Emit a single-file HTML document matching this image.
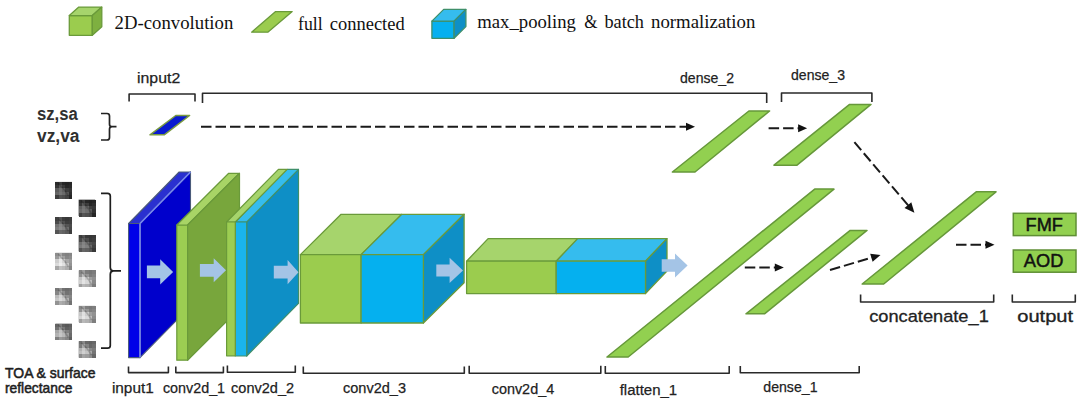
<!DOCTYPE html>
<html><head><meta charset="utf-8"><style>
html,body{margin:0;padding:0;background:#ffffff;}
svg{display:block;}
</style></head><body>
<svg width="1080" height="405" viewBox="0 0 1080 405">
<rect width="1080" height="405" fill="#ffffff"/>
<polygon points="69.3,15.6 92.3,15.6 92.3,35.3 69.3,35.3" fill="#9bcc4e" stroke="#6a9a3a" stroke-width="1.3" stroke-linejoin="round"/>
<polygon points="69.3,15.6 78.8,7.1 101.8,7.1 92.3,15.6" fill="#a6d46c" stroke="#6a9a3a" stroke-width="1.3" stroke-linejoin="round"/>
<polygon points="92.3,15.6 101.8,7.1 101.8,26.8 92.3,35.3" fill="#7eb040" stroke="#6a9a3a" stroke-width="1.3" stroke-linejoin="round"/>
<text x="114.6" y="29.1" font-family='"Liberation Serif", serif' font-size="19" font-weight="normal" fill="#111" stroke="#111" stroke-width="0" textLength="118.7" lengthAdjust="spacingAndGlyphs">2D-convolution</text>
<polygon points="251.6,32.2 267.8,32.2 292.2,11.6 275.6,11.6" fill="#9bcc4e" stroke="#6a9a3a" stroke-width="1.3" stroke-linejoin="round"/>
<text x="298.0" y="30.4" font-family='"Liberation Serif", serif' font-size="19" font-weight="normal" fill="#111" stroke="#111" stroke-width="0" textLength="24.6" lengthAdjust="spacingAndGlyphs">full</text>
<text x="329.8" y="30.4" font-family='"Liberation Serif", serif' font-size="19" font-weight="normal" fill="#111" stroke="#111" stroke-width="0" textLength="74.9" lengthAdjust="spacingAndGlyphs">connected</text>
<polygon points="431.9,21.1 454.1,21.1 454.1,38.3 431.9,38.3" fill="#05b0ef" stroke="#3f8f6a" stroke-width="1.3" stroke-linejoin="round"/>
<polygon points="431.9,21.1 443.7,9.4 465.9,9.4 454.1,21.1" fill="#35bcee" stroke="#3f8f6a" stroke-width="1.3" stroke-linejoin="round"/>
<polygon points="454.1,21.1 465.9,9.4 465.9,26.6 454.1,38.3" fill="#0e8fc6" stroke="#3f8f6a" stroke-width="1.3" stroke-linejoin="round"/>
<text x="477.3" y="27.5" font-family='"Liberation Serif", serif' font-size="19" font-weight="normal" fill="#111" stroke="#111" stroke-width="0" textLength="98.6" lengthAdjust="spacingAndGlyphs">max_pooling</text>
<text x="584.3" y="27.5" font-family='"Liberation Serif", serif' font-size="19" font-weight="normal" fill="#111" stroke="#111" stroke-width="0" textLength="13.2" lengthAdjust="spacingAndGlyphs">&amp;</text>
<text x="604.5" y="27.5" font-family='"Liberation Serif", serif' font-size="19" font-weight="normal" fill="#111" stroke="#111" stroke-width="0" textLength="39.5" lengthAdjust="spacingAndGlyphs">batch</text>
<text x="651.0" y="27.5" font-family='"Liberation Serif", serif' font-size="19" font-weight="normal" fill="#111" stroke="#111" stroke-width="0" textLength="104.3" lengthAdjust="spacingAndGlyphs">normalization</text>
<text x="37" y="119.5" font-family='"Liberation Sans", sans-serif' font-size="17.5" font-weight="bold" fill="#303030" stroke="#303030" stroke-width="0" textLength="40.8" lengthAdjust="spacingAndGlyphs">sz,sa</text>
<text x="37" y="142.0" font-family='"Liberation Sans", sans-serif' font-size="17.5" font-weight="bold" fill="#303030" stroke="#303030" stroke-width="0" textLength="42.5" lengthAdjust="spacingAndGlyphs">vz,va</text>
<path d="M101,113.5 L107,113.5 Q109.5,113.5 109.5,116 L109.5,124.2 Q109.5,126.7 112,126.7 L116.5,126.7 M112,126.7 Q109.5,126.7 109.5,129.2 L109.5,137.5 Q109.5,140 107,140 L101,140" fill="none" stroke="#222" stroke-width="1.7"/>
<text x="137" y="82.6" font-family='"Liberation Sans", sans-serif' font-size="15.5" font-weight="normal" fill="#222222" stroke="#222222" stroke-width="0.25" textLength="43.2" lengthAdjust="spacingAndGlyphs">input2</text>
<polyline points="129.1,101.5 129.1,94 195,94 195,101.5" fill="none" stroke="#2a2a2a" stroke-width="1.6" stroke-linejoin="round"/>
<polyline points="202.5,103 202.5,93.2 766.7,93.2 766.7,103" fill="none" stroke="#2a2a2a" stroke-width="1.6" stroke-linejoin="round"/>
<text x="680" y="82.6" font-family='"Liberation Sans", sans-serif' font-size="15.5" font-weight="normal" fill="#222222" stroke="#222222" stroke-width="0.25" textLength="54" lengthAdjust="spacingAndGlyphs">dense_2</text>
<polyline points="781.5,102 781.5,93 871.9,93 871.9,102" fill="none" stroke="#2a2a2a" stroke-width="1.6" stroke-linejoin="round"/>
<text x="791" y="80.4" font-family='"Liberation Sans", sans-serif' font-size="15.5" font-weight="normal" fill="#222222" stroke="#222222" stroke-width="0.25" textLength="54" lengthAdjust="spacingAndGlyphs">dense_3</text>
<polygon points="150.0,134.8 164.2,134.8 189.6,115.5 175.8,115.5" fill="#0a1ad0" stroke="#7a9a40" stroke-width="1.5" stroke-linejoin="round"/>
<line x1="201" y1="126.8" x2="687.8" y2="126.8" stroke="#1a1a1a" stroke-width="2" stroke-dasharray="10.5 4"/>
<polygon points="695.0,126.8 686.0,130.8 686.0,122.8" fill="#111"/>
<polygon points="672.4,172.0 695.0,172.0 769.6,111.0 748.9,111.0" fill="#92d050" stroke="#66983a" stroke-width="1.5" stroke-linejoin="round"/>
<line x1="768.6" y1="128.2" x2="799.9" y2="128.2" stroke="#1a1a1a" stroke-width="2" stroke-dasharray="10.5 4"/>
<polygon points="807.1,128.2 798.1,132.2 798.1,124.2" fill="#111"/>
<polygon points="774.0,165.2 797.0,165.2 871.0,104.4 849.6,104.4" fill="#92d050" stroke="#66983a" stroke-width="1.5" stroke-linejoin="round"/>
<line x1="854.4" y1="142.2" x2="909.2150509637731" y2="206.60768488243343" stroke="#1a1a1a" stroke-width="2" stroke-dasharray="10.5 4"/>
<polygon points="914.4,212.7 904.5,208.0 911.3,202.2" fill="#111"/>
<defs>
<radialGradient id="lb" cx="0.5" cy="0.5" r="0.5">
<stop offset="0" stop-color="#ffffff" stop-opacity="0.75"/>
<stop offset="1" stop-color="#ffffff" stop-opacity="0"/>
</radialGradient>
<radialGradient id="db" cx="0.5" cy="0.5" r="0.5">
<stop offset="0" stop-color="#000000" stop-opacity="0.55"/>
<stop offset="1" stop-color="#000000" stop-opacity="0"/>
</radialGradient>
<filter id="bl" x="-10%" y="-10%" width="120%" height="120%"><feGaussianBlur stdDeviation="0.6"/></filter>
</defs>
<g filter="url(#bl)"><rect x="55.4" y="181.9" width="16.5" height="16.4" fill="rgb(72,72,72)"/><rect x="55.40" y="181.90" width="3.80" height="3.78" fill="rgb(42,42,42)" shape-rendering="crispEdges"/><rect x="58.70" y="181.90" width="3.80" height="3.78" fill="rgb(62,62,62)" shape-rendering="crispEdges"/><rect x="62.00" y="181.90" width="3.80" height="3.78" fill="rgb(37,37,37)" shape-rendering="crispEdges"/><rect x="65.30" y="181.90" width="3.80" height="3.78" fill="rgb(32,32,32)" shape-rendering="crispEdges"/><rect x="68.60" y="181.90" width="3.80" height="3.78" fill="rgb(37,37,37)" shape-rendering="crispEdges"/><rect x="55.40" y="185.18" width="3.80" height="3.78" fill="rgb(52,52,52)" shape-rendering="crispEdges"/><rect x="58.70" y="185.18" width="3.80" height="3.78" fill="rgb(87,87,87)" shape-rendering="crispEdges"/><rect x="62.00" y="185.18" width="3.80" height="3.78" fill="rgb(57,57,57)" shape-rendering="crispEdges"/><rect x="65.30" y="185.18" width="3.80" height="3.78" fill="rgb(37,37,37)" shape-rendering="crispEdges"/><rect x="68.60" y="185.18" width="3.80" height="3.78" fill="rgb(42,42,42)" shape-rendering="crispEdges"/><rect x="55.40" y="188.46" width="3.80" height="3.78" fill="rgb(92,92,92)" shape-rendering="crispEdges"/><rect x="58.70" y="188.46" width="3.80" height="3.78" fill="rgb(112,112,112)" shape-rendering="crispEdges"/><rect x="62.00" y="188.46" width="3.80" height="3.78" fill="rgb(97,97,97)" shape-rendering="crispEdges"/><rect x="65.30" y="188.46" width="3.80" height="3.78" fill="rgb(62,62,62)" shape-rendering="crispEdges"/><rect x="68.60" y="188.46" width="3.80" height="3.78" fill="rgb(52,52,52)" shape-rendering="crispEdges"/><rect x="55.40" y="191.74" width="3.80" height="3.78" fill="rgb(102,102,102)" shape-rendering="crispEdges"/><rect x="58.70" y="191.74" width="3.80" height="3.78" fill="rgb(117,117,117)" shape-rendering="crispEdges"/><rect x="62.00" y="191.74" width="3.80" height="3.78" fill="rgb(107,107,107)" shape-rendering="crispEdges"/><rect x="65.30" y="191.74" width="3.80" height="3.78" fill="rgb(87,87,87)" shape-rendering="crispEdges"/><rect x="68.60" y="191.74" width="3.80" height="3.78" fill="rgb(47,47,47)" shape-rendering="crispEdges"/><rect x="55.40" y="195.02" width="3.80" height="3.78" fill="rgb(62,62,62)" shape-rendering="crispEdges"/><rect x="58.70" y="195.02" width="3.80" height="3.78" fill="rgb(82,82,82)" shape-rendering="crispEdges"/><rect x="62.00" y="195.02" width="3.80" height="3.78" fill="rgb(77,77,77)" shape-rendering="crispEdges"/><rect x="65.30" y="195.02" width="3.80" height="3.78" fill="rgb(67,67,67)" shape-rendering="crispEdges"/><rect x="68.60" y="195.02" width="3.80" height="3.78" fill="rgb(37,37,37)" shape-rendering="crispEdges"/><path d="M58.4,183.4 L64.4,189.9 L68.4,195.9" fill="none" stroke="#000" stroke-opacity="0.18" stroke-width="1.6"/></g>
<g filter="url(#bl)"><rect x="78.6" y="199.6" width="16.5" height="16.4" fill="rgb(75,75,75)"/><rect x="78.60" y="199.60" width="3.80" height="3.78" fill="rgb(45,45,45)" shape-rendering="crispEdges"/><rect x="81.90" y="199.60" width="3.80" height="3.78" fill="rgb(65,65,65)" shape-rendering="crispEdges"/><rect x="85.20" y="199.60" width="3.80" height="3.78" fill="rgb(40,40,40)" shape-rendering="crispEdges"/><rect x="88.50" y="199.60" width="3.80" height="3.78" fill="rgb(35,35,35)" shape-rendering="crispEdges"/><rect x="91.80" y="199.60" width="3.80" height="3.78" fill="rgb(40,40,40)" shape-rendering="crispEdges"/><rect x="78.60" y="202.88" width="3.80" height="3.78" fill="rgb(55,55,55)" shape-rendering="crispEdges"/><rect x="81.90" y="202.88" width="3.80" height="3.78" fill="rgb(90,90,90)" shape-rendering="crispEdges"/><rect x="85.20" y="202.88" width="3.80" height="3.78" fill="rgb(60,60,60)" shape-rendering="crispEdges"/><rect x="88.50" y="202.88" width="3.80" height="3.78" fill="rgb(40,40,40)" shape-rendering="crispEdges"/><rect x="91.80" y="202.88" width="3.80" height="3.78" fill="rgb(45,45,45)" shape-rendering="crispEdges"/><rect x="78.60" y="206.16" width="3.80" height="3.78" fill="rgb(95,95,95)" shape-rendering="crispEdges"/><rect x="81.90" y="206.16" width="3.80" height="3.78" fill="rgb(115,115,115)" shape-rendering="crispEdges"/><rect x="85.20" y="206.16" width="3.80" height="3.78" fill="rgb(100,100,100)" shape-rendering="crispEdges"/><rect x="88.50" y="206.16" width="3.80" height="3.78" fill="rgb(65,65,65)" shape-rendering="crispEdges"/><rect x="91.80" y="206.16" width="3.80" height="3.78" fill="rgb(55,55,55)" shape-rendering="crispEdges"/><rect x="78.60" y="209.44" width="3.80" height="3.78" fill="rgb(105,105,105)" shape-rendering="crispEdges"/><rect x="81.90" y="209.44" width="3.80" height="3.78" fill="rgb(120,120,120)" shape-rendering="crispEdges"/><rect x="85.20" y="209.44" width="3.80" height="3.78" fill="rgb(110,110,110)" shape-rendering="crispEdges"/><rect x="88.50" y="209.44" width="3.80" height="3.78" fill="rgb(90,90,90)" shape-rendering="crispEdges"/><rect x="91.80" y="209.44" width="3.80" height="3.78" fill="rgb(50,50,50)" shape-rendering="crispEdges"/><rect x="78.60" y="212.72" width="3.80" height="3.78" fill="rgb(65,65,65)" shape-rendering="crispEdges"/><rect x="81.90" y="212.72" width="3.80" height="3.78" fill="rgb(85,85,85)" shape-rendering="crispEdges"/><rect x="85.20" y="212.72" width="3.80" height="3.78" fill="rgb(80,80,80)" shape-rendering="crispEdges"/><rect x="88.50" y="212.72" width="3.80" height="3.78" fill="rgb(70,70,70)" shape-rendering="crispEdges"/><rect x="91.80" y="212.72" width="3.80" height="3.78" fill="rgb(40,40,40)" shape-rendering="crispEdges"/><path d="M81.6,201.1 L87.6,207.6 L91.6,213.6" fill="none" stroke="#000" stroke-opacity="0.18" stroke-width="1.6"/></g>
<g filter="url(#bl)"><rect x="55.4" y="217.3" width="16.5" height="16.4" fill="rgb(95,95,95)"/><rect x="55.40" y="217.30" width="3.80" height="3.78" fill="rgb(65,65,65)" shape-rendering="crispEdges"/><rect x="58.70" y="217.30" width="3.80" height="3.78" fill="rgb(85,85,85)" shape-rendering="crispEdges"/><rect x="62.00" y="217.30" width="3.80" height="3.78" fill="rgb(60,60,60)" shape-rendering="crispEdges"/><rect x="65.30" y="217.30" width="3.80" height="3.78" fill="rgb(55,55,55)" shape-rendering="crispEdges"/><rect x="68.60" y="217.30" width="3.80" height="3.78" fill="rgb(60,60,60)" shape-rendering="crispEdges"/><rect x="55.40" y="220.58" width="3.80" height="3.78" fill="rgb(75,75,75)" shape-rendering="crispEdges"/><rect x="58.70" y="220.58" width="3.80" height="3.78" fill="rgb(110,110,110)" shape-rendering="crispEdges"/><rect x="62.00" y="220.58" width="3.80" height="3.78" fill="rgb(80,80,80)" shape-rendering="crispEdges"/><rect x="65.30" y="220.58" width="3.80" height="3.78" fill="rgb(60,60,60)" shape-rendering="crispEdges"/><rect x="68.60" y="220.58" width="3.80" height="3.78" fill="rgb(65,65,65)" shape-rendering="crispEdges"/><rect x="55.40" y="223.86" width="3.80" height="3.78" fill="rgb(115,115,115)" shape-rendering="crispEdges"/><rect x="58.70" y="223.86" width="3.80" height="3.78" fill="rgb(135,135,135)" shape-rendering="crispEdges"/><rect x="62.00" y="223.86" width="3.80" height="3.78" fill="rgb(120,120,120)" shape-rendering="crispEdges"/><rect x="65.30" y="223.86" width="3.80" height="3.78" fill="rgb(85,85,85)" shape-rendering="crispEdges"/><rect x="68.60" y="223.86" width="3.80" height="3.78" fill="rgb(75,75,75)" shape-rendering="crispEdges"/><rect x="55.40" y="227.14" width="3.80" height="3.78" fill="rgb(125,125,125)" shape-rendering="crispEdges"/><rect x="58.70" y="227.14" width="3.80" height="3.78" fill="rgb(140,140,140)" shape-rendering="crispEdges"/><rect x="62.00" y="227.14" width="3.80" height="3.78" fill="rgb(130,130,130)" shape-rendering="crispEdges"/><rect x="65.30" y="227.14" width="3.80" height="3.78" fill="rgb(110,110,110)" shape-rendering="crispEdges"/><rect x="68.60" y="227.14" width="3.80" height="3.78" fill="rgb(70,70,70)" shape-rendering="crispEdges"/><rect x="55.40" y="230.42" width="3.80" height="3.78" fill="rgb(85,85,85)" shape-rendering="crispEdges"/><rect x="58.70" y="230.42" width="3.80" height="3.78" fill="rgb(105,105,105)" shape-rendering="crispEdges"/><rect x="62.00" y="230.42" width="3.80" height="3.78" fill="rgb(100,100,100)" shape-rendering="crispEdges"/><rect x="65.30" y="230.42" width="3.80" height="3.78" fill="rgb(90,90,90)" shape-rendering="crispEdges"/><rect x="68.60" y="230.42" width="3.80" height="3.78" fill="rgb(60,60,60)" shape-rendering="crispEdges"/><path d="M58.4,218.8 L64.4,225.3 L68.4,231.3" fill="none" stroke="#000" stroke-opacity="0.18" stroke-width="1.6"/></g>
<g filter="url(#bl)"><rect x="78.6" y="235.0" width="16.5" height="16.4" fill="rgb(92,92,92)"/><rect x="78.60" y="235.00" width="3.80" height="3.78" fill="rgb(62,62,62)" shape-rendering="crispEdges"/><rect x="81.90" y="235.00" width="3.80" height="3.78" fill="rgb(82,82,82)" shape-rendering="crispEdges"/><rect x="85.20" y="235.00" width="3.80" height="3.78" fill="rgb(57,57,57)" shape-rendering="crispEdges"/><rect x="88.50" y="235.00" width="3.80" height="3.78" fill="rgb(52,52,52)" shape-rendering="crispEdges"/><rect x="91.80" y="235.00" width="3.80" height="3.78" fill="rgb(57,57,57)" shape-rendering="crispEdges"/><rect x="78.60" y="238.28" width="3.80" height="3.78" fill="rgb(72,72,72)" shape-rendering="crispEdges"/><rect x="81.90" y="238.28" width="3.80" height="3.78" fill="rgb(107,107,107)" shape-rendering="crispEdges"/><rect x="85.20" y="238.28" width="3.80" height="3.78" fill="rgb(77,77,77)" shape-rendering="crispEdges"/><rect x="88.50" y="238.28" width="3.80" height="3.78" fill="rgb(57,57,57)" shape-rendering="crispEdges"/><rect x="91.80" y="238.28" width="3.80" height="3.78" fill="rgb(62,62,62)" shape-rendering="crispEdges"/><rect x="78.60" y="241.56" width="3.80" height="3.78" fill="rgb(112,112,112)" shape-rendering="crispEdges"/><rect x="81.90" y="241.56" width="3.80" height="3.78" fill="rgb(132,132,132)" shape-rendering="crispEdges"/><rect x="85.20" y="241.56" width="3.80" height="3.78" fill="rgb(117,117,117)" shape-rendering="crispEdges"/><rect x="88.50" y="241.56" width="3.80" height="3.78" fill="rgb(82,82,82)" shape-rendering="crispEdges"/><rect x="91.80" y="241.56" width="3.80" height="3.78" fill="rgb(72,72,72)" shape-rendering="crispEdges"/><rect x="78.60" y="244.84" width="3.80" height="3.78" fill="rgb(122,122,122)" shape-rendering="crispEdges"/><rect x="81.90" y="244.84" width="3.80" height="3.78" fill="rgb(137,137,137)" shape-rendering="crispEdges"/><rect x="85.20" y="244.84" width="3.80" height="3.78" fill="rgb(127,127,127)" shape-rendering="crispEdges"/><rect x="88.50" y="244.84" width="3.80" height="3.78" fill="rgb(107,107,107)" shape-rendering="crispEdges"/><rect x="91.80" y="244.84" width="3.80" height="3.78" fill="rgb(67,67,67)" shape-rendering="crispEdges"/><rect x="78.60" y="248.12" width="3.80" height="3.78" fill="rgb(82,82,82)" shape-rendering="crispEdges"/><rect x="81.90" y="248.12" width="3.80" height="3.78" fill="rgb(102,102,102)" shape-rendering="crispEdges"/><rect x="85.20" y="248.12" width="3.80" height="3.78" fill="rgb(97,97,97)" shape-rendering="crispEdges"/><rect x="88.50" y="248.12" width="3.80" height="3.78" fill="rgb(87,87,87)" shape-rendering="crispEdges"/><rect x="91.80" y="248.12" width="3.80" height="3.78" fill="rgb(57,57,57)" shape-rendering="crispEdges"/><path d="M81.6,236.5 L87.6,243.0 L91.6,249.0" fill="none" stroke="#000" stroke-opacity="0.18" stroke-width="1.6"/></g>
<g filter="url(#bl)"><rect x="55.4" y="252.7" width="16.5" height="16.4" fill="rgb(180,180,180)"/><rect x="55.40" y="252.70" width="3.80" height="3.78" fill="rgb(141,141,141)" shape-rendering="crispEdges"/><rect x="58.70" y="252.70" width="3.80" height="3.78" fill="rgb(167,167,167)" shape-rendering="crispEdges"/><rect x="62.00" y="252.70" width="3.80" height="3.78" fill="rgb(134,134,134)" shape-rendering="crispEdges"/><rect x="65.30" y="252.70" width="3.80" height="3.78" fill="rgb(128,128,128)" shape-rendering="crispEdges"/><rect x="68.60" y="252.70" width="3.80" height="3.78" fill="rgb(134,134,134)" shape-rendering="crispEdges"/><rect x="55.40" y="255.98" width="3.80" height="3.78" fill="rgb(154,154,154)" shape-rendering="crispEdges"/><rect x="58.70" y="255.98" width="3.80" height="3.78" fill="rgb(199,199,199)" shape-rendering="crispEdges"/><rect x="62.00" y="255.98" width="3.80" height="3.78" fill="rgb(160,160,160)" shape-rendering="crispEdges"/><rect x="65.30" y="255.98" width="3.80" height="3.78" fill="rgb(134,134,134)" shape-rendering="crispEdges"/><rect x="68.60" y="255.98" width="3.80" height="3.78" fill="rgb(141,141,141)" shape-rendering="crispEdges"/><rect x="55.40" y="259.26" width="3.80" height="3.78" fill="rgb(206,206,206)" shape-rendering="crispEdges"/><rect x="58.70" y="259.26" width="3.80" height="3.78" fill="rgb(232,232,232)" shape-rendering="crispEdges"/><rect x="62.00" y="259.26" width="3.80" height="3.78" fill="rgb(212,212,212)" shape-rendering="crispEdges"/><rect x="65.30" y="259.26" width="3.80" height="3.78" fill="rgb(167,167,167)" shape-rendering="crispEdges"/><rect x="68.60" y="259.26" width="3.80" height="3.78" fill="rgb(154,154,154)" shape-rendering="crispEdges"/><rect x="55.40" y="262.54" width="3.80" height="3.78" fill="rgb(219,219,219)" shape-rendering="crispEdges"/><rect x="58.70" y="262.54" width="3.80" height="3.78" fill="rgb(238,238,238)" shape-rendering="crispEdges"/><rect x="62.00" y="262.54" width="3.80" height="3.78" fill="rgb(225,225,225)" shape-rendering="crispEdges"/><rect x="65.30" y="262.54" width="3.80" height="3.78" fill="rgb(199,199,199)" shape-rendering="crispEdges"/><rect x="68.60" y="262.54" width="3.80" height="3.78" fill="rgb(147,147,147)" shape-rendering="crispEdges"/><rect x="55.40" y="265.82" width="3.80" height="3.78" fill="rgb(167,167,167)" shape-rendering="crispEdges"/><rect x="58.70" y="265.82" width="3.80" height="3.78" fill="rgb(193,193,193)" shape-rendering="crispEdges"/><rect x="62.00" y="265.82" width="3.80" height="3.78" fill="rgb(186,186,186)" shape-rendering="crispEdges"/><rect x="65.30" y="265.82" width="3.80" height="3.78" fill="rgb(173,173,173)" shape-rendering="crispEdges"/><rect x="68.60" y="265.82" width="3.80" height="3.78" fill="rgb(134,134,134)" shape-rendering="crispEdges"/><path d="M58.4,254.2 L64.4,260.7 L68.4,266.7" fill="none" stroke="#000" stroke-opacity="0.18" stroke-width="1.6"/></g>
<g filter="url(#bl)"><rect x="78.6" y="270.4" width="16.5" height="16.4" fill="rgb(170,170,170)"/><rect x="78.60" y="270.40" width="3.80" height="3.78" fill="rgb(131,131,131)" shape-rendering="crispEdges"/><rect x="81.90" y="270.40" width="3.80" height="3.78" fill="rgb(157,157,157)" shape-rendering="crispEdges"/><rect x="85.20" y="270.40" width="3.80" height="3.78" fill="rgb(124,124,124)" shape-rendering="crispEdges"/><rect x="88.50" y="270.40" width="3.80" height="3.78" fill="rgb(118,118,118)" shape-rendering="crispEdges"/><rect x="91.80" y="270.40" width="3.80" height="3.78" fill="rgb(124,124,124)" shape-rendering="crispEdges"/><rect x="78.60" y="273.68" width="3.80" height="3.78" fill="rgb(144,144,144)" shape-rendering="crispEdges"/><rect x="81.90" y="273.68" width="3.80" height="3.78" fill="rgb(189,189,189)" shape-rendering="crispEdges"/><rect x="85.20" y="273.68" width="3.80" height="3.78" fill="rgb(150,150,150)" shape-rendering="crispEdges"/><rect x="88.50" y="273.68" width="3.80" height="3.78" fill="rgb(124,124,124)" shape-rendering="crispEdges"/><rect x="91.80" y="273.68" width="3.80" height="3.78" fill="rgb(131,131,131)" shape-rendering="crispEdges"/><rect x="78.60" y="276.96" width="3.80" height="3.78" fill="rgb(196,196,196)" shape-rendering="crispEdges"/><rect x="81.90" y="276.96" width="3.80" height="3.78" fill="rgb(222,222,222)" shape-rendering="crispEdges"/><rect x="85.20" y="276.96" width="3.80" height="3.78" fill="rgb(202,202,202)" shape-rendering="crispEdges"/><rect x="88.50" y="276.96" width="3.80" height="3.78" fill="rgb(157,157,157)" shape-rendering="crispEdges"/><rect x="91.80" y="276.96" width="3.80" height="3.78" fill="rgb(144,144,144)" shape-rendering="crispEdges"/><rect x="78.60" y="280.24" width="3.80" height="3.78" fill="rgb(209,209,209)" shape-rendering="crispEdges"/><rect x="81.90" y="280.24" width="3.80" height="3.78" fill="rgb(228,228,228)" shape-rendering="crispEdges"/><rect x="85.20" y="280.24" width="3.80" height="3.78" fill="rgb(215,215,215)" shape-rendering="crispEdges"/><rect x="88.50" y="280.24" width="3.80" height="3.78" fill="rgb(189,189,189)" shape-rendering="crispEdges"/><rect x="91.80" y="280.24" width="3.80" height="3.78" fill="rgb(137,137,137)" shape-rendering="crispEdges"/><rect x="78.60" y="283.52" width="3.80" height="3.78" fill="rgb(157,157,157)" shape-rendering="crispEdges"/><rect x="81.90" y="283.52" width="3.80" height="3.78" fill="rgb(183,183,183)" shape-rendering="crispEdges"/><rect x="85.20" y="283.52" width="3.80" height="3.78" fill="rgb(176,176,176)" shape-rendering="crispEdges"/><rect x="88.50" y="283.52" width="3.80" height="3.78" fill="rgb(163,163,163)" shape-rendering="crispEdges"/><rect x="91.80" y="283.52" width="3.80" height="3.78" fill="rgb(124,124,124)" shape-rendering="crispEdges"/><path d="M81.6,271.9 L87.6,278.4 L91.6,284.4" fill="none" stroke="#000" stroke-opacity="0.18" stroke-width="1.6"/></g>
<g filter="url(#bl)"><rect x="55.4" y="288.1" width="16.5" height="16.4" fill="rgb(160,160,160)"/><rect x="55.40" y="288.10" width="3.80" height="3.78" fill="rgb(121,121,121)" shape-rendering="crispEdges"/><rect x="58.70" y="288.10" width="3.80" height="3.78" fill="rgb(147,147,147)" shape-rendering="crispEdges"/><rect x="62.00" y="288.10" width="3.80" height="3.78" fill="rgb(114,114,114)" shape-rendering="crispEdges"/><rect x="65.30" y="288.10" width="3.80" height="3.78" fill="rgb(108,108,108)" shape-rendering="crispEdges"/><rect x="68.60" y="288.10" width="3.80" height="3.78" fill="rgb(114,114,114)" shape-rendering="crispEdges"/><rect x="55.40" y="291.38" width="3.80" height="3.78" fill="rgb(134,134,134)" shape-rendering="crispEdges"/><rect x="58.70" y="291.38" width="3.80" height="3.78" fill="rgb(179,179,179)" shape-rendering="crispEdges"/><rect x="62.00" y="291.38" width="3.80" height="3.78" fill="rgb(140,140,140)" shape-rendering="crispEdges"/><rect x="65.30" y="291.38" width="3.80" height="3.78" fill="rgb(114,114,114)" shape-rendering="crispEdges"/><rect x="68.60" y="291.38" width="3.80" height="3.78" fill="rgb(121,121,121)" shape-rendering="crispEdges"/><rect x="55.40" y="294.66" width="3.80" height="3.78" fill="rgb(186,186,186)" shape-rendering="crispEdges"/><rect x="58.70" y="294.66" width="3.80" height="3.78" fill="rgb(212,212,212)" shape-rendering="crispEdges"/><rect x="62.00" y="294.66" width="3.80" height="3.78" fill="rgb(192,192,192)" shape-rendering="crispEdges"/><rect x="65.30" y="294.66" width="3.80" height="3.78" fill="rgb(147,147,147)" shape-rendering="crispEdges"/><rect x="68.60" y="294.66" width="3.80" height="3.78" fill="rgb(134,134,134)" shape-rendering="crispEdges"/><rect x="55.40" y="297.94" width="3.80" height="3.78" fill="rgb(199,199,199)" shape-rendering="crispEdges"/><rect x="58.70" y="297.94" width="3.80" height="3.78" fill="rgb(218,218,218)" shape-rendering="crispEdges"/><rect x="62.00" y="297.94" width="3.80" height="3.78" fill="rgb(205,205,205)" shape-rendering="crispEdges"/><rect x="65.30" y="297.94" width="3.80" height="3.78" fill="rgb(179,179,179)" shape-rendering="crispEdges"/><rect x="68.60" y="297.94" width="3.80" height="3.78" fill="rgb(127,127,127)" shape-rendering="crispEdges"/><rect x="55.40" y="301.22" width="3.80" height="3.78" fill="rgb(147,147,147)" shape-rendering="crispEdges"/><rect x="58.70" y="301.22" width="3.80" height="3.78" fill="rgb(173,173,173)" shape-rendering="crispEdges"/><rect x="62.00" y="301.22" width="3.80" height="3.78" fill="rgb(166,166,166)" shape-rendering="crispEdges"/><rect x="65.30" y="301.22" width="3.80" height="3.78" fill="rgb(153,153,153)" shape-rendering="crispEdges"/><rect x="68.60" y="301.22" width="3.80" height="3.78" fill="rgb(114,114,114)" shape-rendering="crispEdges"/><path d="M58.4,289.6 L64.4,296.1 L68.4,302.1" fill="none" stroke="#000" stroke-opacity="0.18" stroke-width="1.6"/></g>
<g filter="url(#bl)"><rect x="78.6" y="305.79999999999995" width="16.5" height="16.4" fill="rgb(172,172,172)"/><rect x="78.60" y="305.80" width="3.80" height="3.78" fill="rgb(133,133,133)" shape-rendering="crispEdges"/><rect x="81.90" y="305.80" width="3.80" height="3.78" fill="rgb(159,159,159)" shape-rendering="crispEdges"/><rect x="85.20" y="305.80" width="3.80" height="3.78" fill="rgb(126,126,126)" shape-rendering="crispEdges"/><rect x="88.50" y="305.80" width="3.80" height="3.78" fill="rgb(120,120,120)" shape-rendering="crispEdges"/><rect x="91.80" y="305.80" width="3.80" height="3.78" fill="rgb(126,126,126)" shape-rendering="crispEdges"/><rect x="78.60" y="309.08" width="3.80" height="3.78" fill="rgb(146,146,146)" shape-rendering="crispEdges"/><rect x="81.90" y="309.08" width="3.80" height="3.78" fill="rgb(191,191,191)" shape-rendering="crispEdges"/><rect x="85.20" y="309.08" width="3.80" height="3.78" fill="rgb(152,152,152)" shape-rendering="crispEdges"/><rect x="88.50" y="309.08" width="3.80" height="3.78" fill="rgb(126,126,126)" shape-rendering="crispEdges"/><rect x="91.80" y="309.08" width="3.80" height="3.78" fill="rgb(133,133,133)" shape-rendering="crispEdges"/><rect x="78.60" y="312.36" width="3.80" height="3.78" fill="rgb(198,198,198)" shape-rendering="crispEdges"/><rect x="81.90" y="312.36" width="3.80" height="3.78" fill="rgb(224,224,224)" shape-rendering="crispEdges"/><rect x="85.20" y="312.36" width="3.80" height="3.78" fill="rgb(204,204,204)" shape-rendering="crispEdges"/><rect x="88.50" y="312.36" width="3.80" height="3.78" fill="rgb(159,159,159)" shape-rendering="crispEdges"/><rect x="91.80" y="312.36" width="3.80" height="3.78" fill="rgb(146,146,146)" shape-rendering="crispEdges"/><rect x="78.60" y="315.64" width="3.80" height="3.78" fill="rgb(211,211,211)" shape-rendering="crispEdges"/><rect x="81.90" y="315.64" width="3.80" height="3.78" fill="rgb(230,230,230)" shape-rendering="crispEdges"/><rect x="85.20" y="315.64" width="3.80" height="3.78" fill="rgb(217,217,217)" shape-rendering="crispEdges"/><rect x="88.50" y="315.64" width="3.80" height="3.78" fill="rgb(191,191,191)" shape-rendering="crispEdges"/><rect x="91.80" y="315.64" width="3.80" height="3.78" fill="rgb(139,139,139)" shape-rendering="crispEdges"/><rect x="78.60" y="318.92" width="3.80" height="3.78" fill="rgb(159,159,159)" shape-rendering="crispEdges"/><rect x="81.90" y="318.92" width="3.80" height="3.78" fill="rgb(185,185,185)" shape-rendering="crispEdges"/><rect x="85.20" y="318.92" width="3.80" height="3.78" fill="rgb(178,178,178)" shape-rendering="crispEdges"/><rect x="88.50" y="318.92" width="3.80" height="3.78" fill="rgb(165,165,165)" shape-rendering="crispEdges"/><rect x="91.80" y="318.92" width="3.80" height="3.78" fill="rgb(126,126,126)" shape-rendering="crispEdges"/><path d="M81.6,307.29999999999995 L87.6,313.79999999999995 L91.6,319.79999999999995" fill="none" stroke="#000" stroke-opacity="0.18" stroke-width="1.6"/></g>
<g filter="url(#bl)"><rect x="55.4" y="323.5" width="16.5" height="16.4" fill="rgb(140,140,140)"/><rect x="55.40" y="323.50" width="3.80" height="3.78" fill="rgb(101,101,101)" shape-rendering="crispEdges"/><rect x="58.70" y="323.50" width="3.80" height="3.78" fill="rgb(127,127,127)" shape-rendering="crispEdges"/><rect x="62.00" y="323.50" width="3.80" height="3.78" fill="rgb(94,94,94)" shape-rendering="crispEdges"/><rect x="65.30" y="323.50" width="3.80" height="3.78" fill="rgb(88,88,88)" shape-rendering="crispEdges"/><rect x="68.60" y="323.50" width="3.80" height="3.78" fill="rgb(94,94,94)" shape-rendering="crispEdges"/><rect x="55.40" y="326.78" width="3.80" height="3.78" fill="rgb(114,114,114)" shape-rendering="crispEdges"/><rect x="58.70" y="326.78" width="3.80" height="3.78" fill="rgb(159,159,159)" shape-rendering="crispEdges"/><rect x="62.00" y="326.78" width="3.80" height="3.78" fill="rgb(120,120,120)" shape-rendering="crispEdges"/><rect x="65.30" y="326.78" width="3.80" height="3.78" fill="rgb(94,94,94)" shape-rendering="crispEdges"/><rect x="68.60" y="326.78" width="3.80" height="3.78" fill="rgb(101,101,101)" shape-rendering="crispEdges"/><rect x="55.40" y="330.06" width="3.80" height="3.78" fill="rgb(166,166,166)" shape-rendering="crispEdges"/><rect x="58.70" y="330.06" width="3.80" height="3.78" fill="rgb(192,192,192)" shape-rendering="crispEdges"/><rect x="62.00" y="330.06" width="3.80" height="3.78" fill="rgb(172,172,172)" shape-rendering="crispEdges"/><rect x="65.30" y="330.06" width="3.80" height="3.78" fill="rgb(127,127,127)" shape-rendering="crispEdges"/><rect x="68.60" y="330.06" width="3.80" height="3.78" fill="rgb(114,114,114)" shape-rendering="crispEdges"/><rect x="55.40" y="333.34" width="3.80" height="3.78" fill="rgb(179,179,179)" shape-rendering="crispEdges"/><rect x="58.70" y="333.34" width="3.80" height="3.78" fill="rgb(198,198,198)" shape-rendering="crispEdges"/><rect x="62.00" y="333.34" width="3.80" height="3.78" fill="rgb(185,185,185)" shape-rendering="crispEdges"/><rect x="65.30" y="333.34" width="3.80" height="3.78" fill="rgb(159,159,159)" shape-rendering="crispEdges"/><rect x="68.60" y="333.34" width="3.80" height="3.78" fill="rgb(107,107,107)" shape-rendering="crispEdges"/><rect x="55.40" y="336.62" width="3.80" height="3.78" fill="rgb(127,127,127)" shape-rendering="crispEdges"/><rect x="58.70" y="336.62" width="3.80" height="3.78" fill="rgb(153,153,153)" shape-rendering="crispEdges"/><rect x="62.00" y="336.62" width="3.80" height="3.78" fill="rgb(146,146,146)" shape-rendering="crispEdges"/><rect x="65.30" y="336.62" width="3.80" height="3.78" fill="rgb(133,133,133)" shape-rendering="crispEdges"/><rect x="68.60" y="336.62" width="3.80" height="3.78" fill="rgb(94,94,94)" shape-rendering="crispEdges"/><path d="M58.4,325.0 L64.4,331.5 L68.4,337.5" fill="none" stroke="#000" stroke-opacity="0.18" stroke-width="1.6"/></g>
<g filter="url(#bl)"><rect x="78.6" y="341.2" width="16.5" height="16.4" fill="rgb(150,150,150)"/><rect x="78.60" y="341.20" width="3.80" height="3.78" fill="rgb(111,111,111)" shape-rendering="crispEdges"/><rect x="81.90" y="341.20" width="3.80" height="3.78" fill="rgb(137,137,137)" shape-rendering="crispEdges"/><rect x="85.20" y="341.20" width="3.80" height="3.78" fill="rgb(104,104,104)" shape-rendering="crispEdges"/><rect x="88.50" y="341.20" width="3.80" height="3.78" fill="rgb(98,98,98)" shape-rendering="crispEdges"/><rect x="91.80" y="341.20" width="3.80" height="3.78" fill="rgb(104,104,104)" shape-rendering="crispEdges"/><rect x="78.60" y="344.48" width="3.80" height="3.78" fill="rgb(124,124,124)" shape-rendering="crispEdges"/><rect x="81.90" y="344.48" width="3.80" height="3.78" fill="rgb(169,169,169)" shape-rendering="crispEdges"/><rect x="85.20" y="344.48" width="3.80" height="3.78" fill="rgb(130,130,130)" shape-rendering="crispEdges"/><rect x="88.50" y="344.48" width="3.80" height="3.78" fill="rgb(104,104,104)" shape-rendering="crispEdges"/><rect x="91.80" y="344.48" width="3.80" height="3.78" fill="rgb(111,111,111)" shape-rendering="crispEdges"/><rect x="78.60" y="347.76" width="3.80" height="3.78" fill="rgb(176,176,176)" shape-rendering="crispEdges"/><rect x="81.90" y="347.76" width="3.80" height="3.78" fill="rgb(202,202,202)" shape-rendering="crispEdges"/><rect x="85.20" y="347.76" width="3.80" height="3.78" fill="rgb(182,182,182)" shape-rendering="crispEdges"/><rect x="88.50" y="347.76" width="3.80" height="3.78" fill="rgb(137,137,137)" shape-rendering="crispEdges"/><rect x="91.80" y="347.76" width="3.80" height="3.78" fill="rgb(124,124,124)" shape-rendering="crispEdges"/><rect x="78.60" y="351.04" width="3.80" height="3.78" fill="rgb(189,189,189)" shape-rendering="crispEdges"/><rect x="81.90" y="351.04" width="3.80" height="3.78" fill="rgb(208,208,208)" shape-rendering="crispEdges"/><rect x="85.20" y="351.04" width="3.80" height="3.78" fill="rgb(195,195,195)" shape-rendering="crispEdges"/><rect x="88.50" y="351.04" width="3.80" height="3.78" fill="rgb(169,169,169)" shape-rendering="crispEdges"/><rect x="91.80" y="351.04" width="3.80" height="3.78" fill="rgb(117,117,117)" shape-rendering="crispEdges"/><rect x="78.60" y="354.32" width="3.80" height="3.78" fill="rgb(137,137,137)" shape-rendering="crispEdges"/><rect x="81.90" y="354.32" width="3.80" height="3.78" fill="rgb(163,163,163)" shape-rendering="crispEdges"/><rect x="85.20" y="354.32" width="3.80" height="3.78" fill="rgb(156,156,156)" shape-rendering="crispEdges"/><rect x="88.50" y="354.32" width="3.80" height="3.78" fill="rgb(143,143,143)" shape-rendering="crispEdges"/><rect x="91.80" y="354.32" width="3.80" height="3.78" fill="rgb(104,104,104)" shape-rendering="crispEdges"/><path d="M81.6,342.7 L87.6,349.2 L91.6,355.2" fill="none" stroke="#000" stroke-opacity="0.18" stroke-width="1.6"/></g>
<path d="M101,193.3 L107.5,193.3 Q110.3,193.3 110.3,196 L110.3,267.5 Q110.3,270.9 113.5,270.9 L121,270.9 M113.5,270.9 Q110.3,270.9 110.3,274.3 L110.3,345.5 Q110.3,348.2 107.5,348.2 L101,348.2" fill="none" stroke="#1e1e1e" stroke-width="1.7"/>
<text x="5.0" y="377.6" font-family='"Liberation Sans", sans-serif' font-size="15" font-weight="normal" fill="#1e1e1e" stroke="#1e1e1e" stroke-width="0.55" textLength="90.5" lengthAdjust="spacingAndGlyphs">TOA &amp; surface</text>
<text x="5.0" y="393.2" font-family='"Liberation Sans", sans-serif' font-size="15" font-weight="normal" fill="#1e1e1e" stroke="#1e1e1e" stroke-width="0.55" textLength="67.5" lengthAdjust="spacingAndGlyphs">reflectance</text>
<polygon points="140.0,223.5 190.5,172.0 190.5,306.1 140.0,357.6" fill="#0000cc" stroke="#4a5a7a" stroke-width="1.1" stroke-linejoin="round"/>
<polygon points="128.6,223.5 179.1,172.0 190.5,172.0 140.0,223.5" fill="#2a30d0" stroke="#4a5a7a" stroke-width="1.1" stroke-linejoin="round"/>
<polygon points="128.6,223.5 140.0,223.5 140.0,357.6 128.6,357.6" fill="#0000e8" stroke="#4a5a7a" stroke-width="1.1" stroke-linejoin="round"/>
<line x1="140.0" y1="223.5" x2="140.0" y2="357.6" stroke="#7888f4" stroke-width="1.6"/>
<line x1="140.0" y1="223.5" x2="190.5" y2="172.0" stroke="#7888f4" stroke-width="1.6"/>
<polygon points="146.9,265.5 160.2,265.5 160.2,259.3 173.1,271.9 160.2,284.5 160.2,278.3 146.9,278.3" fill="#a4c4e6"/>
<polygon points="176.8,225.0 187.6,225.0 187.6,360.2 176.8,360.2" fill="#9ccd52" stroke="#6a9a3a" stroke-width="1.2" stroke-linejoin="round"/>
<polygon points="176.8,225.0 228.7,173.3 239.5,173.3 187.6,225.0" fill="#a8d466" stroke="#6a9a3a" stroke-width="1.2" stroke-linejoin="round"/>
<polygon points="187.6,225.0 239.5,173.3 239.5,308.5 187.6,360.2" fill="#78a63c" stroke="#6a9a3a" stroke-width="1.2" stroke-linejoin="round"/>
<polygon points="199.9,263.9 213.7,263.9 213.7,258.3 226.0,270.3 213.7,282.3 213.7,276.7 199.9,276.7" fill="#a4c4e6"/>
<polygon points="246.7,222.0 298.5,169.4 298.5,303.4 246.7,356.0" fill="#0e8fc6" stroke="#3f8f6a" stroke-width="1.2" stroke-linejoin="round"/>
<polygon points="235.3,222.0 287.1,169.4 298.5,169.4 246.7,222.0" fill="#35bcee" stroke="#3f8f6a" stroke-width="1.2" stroke-linejoin="round"/>
<polygon points="226.6,222.0 278.4,169.4 287.1,169.4 235.3,222.0" fill="#a6d46c" stroke="#6a9a3a" stroke-width="1.2" stroke-linejoin="round"/>
<polygon points="235.3,222.0 246.7,222.0 246.7,356.0 235.3,356.0" fill="#1ab4ec" stroke="#3f8f6a" stroke-width="1.2" stroke-linejoin="round"/>
<polygon points="226.6,222.0 235.3,222.0 235.3,355.8 226.6,355.8" fill="#9ccd52" stroke="#6a9a3a" stroke-width="1.2" stroke-linejoin="round"/>
<polygon points="273.8,265.8 287.6,265.8 287.6,260.1 298.5,272.2 287.6,284.3 287.6,278.6 273.8,278.6" fill="#a4c4e6"/>
<polygon points="300.4,254.6 341.1,214.3 401.8,214.3 361.1,254.6" fill="#a6d46c" stroke="#6a9a3a" stroke-width="1.3" stroke-linejoin="round"/>
<polygon points="361.1,254.6 401.8,214.3 464.1,214.3 423.4,254.6" fill="#35bcee" stroke="#6a9a3a" stroke-width="1.3" stroke-linejoin="round"/>
<polygon points="423.4,254.6 464.1,214.3 464.1,282.7 423.4,323.0" fill="#0e8fc6" stroke="#6a9a3a" stroke-width="1.3" stroke-linejoin="round"/>
<polygon points="300.4,254.6 361.1,254.6 361.1,323.0 300.4,323.0" fill="#9bcc4e" stroke="#6a9a3a" stroke-width="1.3" stroke-linejoin="round"/>
<polygon points="361.1,254.6 423.4,254.6 423.4,323.0 361.1,323.0" fill="#05b0ef" stroke="#6a9a3a" stroke-width="1.3" stroke-linejoin="round"/>
<polygon points="436.3,264.4 449.6,264.4 449.6,257.8 463.0,270.4 449.6,283.0 449.6,276.4 436.3,276.4" fill="#a4c4e6"/>
<polygon points="466.6,261.2 488.1,238.6 577.7,238.6 556.2,261.2" fill="#a6d46c" stroke="#6a9a3a" stroke-width="1.3" stroke-linejoin="round"/>
<polygon points="556.2,261.2 577.7,238.6 667.0,238.6 645.5,261.2" fill="#35bcee" stroke="#6a9a3a" stroke-width="1.3" stroke-linejoin="round"/>
<polygon points="645.5,261.2 667.0,238.6 667.0,271.0 645.5,293.6" fill="#0e8fc6" stroke="#6a9a3a" stroke-width="1.3" stroke-linejoin="round"/>
<polygon points="466.6,261.2 556.2,261.2 556.2,293.6 466.6,293.6" fill="#9bcc4e" stroke="#6a9a3a" stroke-width="1.3" stroke-linejoin="round"/>
<polygon points="556.2,261.2 645.5,261.2 645.5,293.6 556.2,293.6" fill="#05b0ef" stroke="#6a9a3a" stroke-width="1.3" stroke-linejoin="round"/>
<polygon points="661.7,259.2 675.0,259.2 675.0,253.6 687.6,265.5 675.0,277.4 675.0,271.8 661.7,271.8" fill="#a4c4e6"/>
<polygon points="607.0,357.0 628.2,357.0 834.0,189.1 814.7,189.1" fill="#92d050" stroke="#66983a" stroke-width="1.5" stroke-linejoin="round"/>
<line x1="744.8" y1="267.4" x2="776.5999999999999" y2="267.4" stroke="#1a1a1a" stroke-width="2" stroke-dasharray="10.5 4"/>
<polygon points="783.8,267.4 774.8,271.4 774.8,263.4" fill="#111"/>
<polygon points="746.0,313.8 764.5,313.8 867.0,230.4 850.2,230.4" fill="#92d050" stroke="#66983a" stroke-width="1.5" stroke-linejoin="round"/>
<line x1="830" y1="270" x2="873.214591388772" y2="257.1639827558103" stroke="#1a1a1a" stroke-width="2" stroke-dasharray="10.5 4"/>
<polygon points="880.5,255.0 872.6,261.7 870.2,253.7" fill="#111"/>
<polygon points="862.2,284.0 883.7,284.0 996.0,191.8 976.2,191.8" fill="#92d050" stroke="#66983a" stroke-width="1.5" stroke-linejoin="round"/>
<line x1="956" y1="244.8" x2="987.3" y2="244.8" stroke="#1a1a1a" stroke-width="2" stroke-dasharray="10.5 4"/>
<polygon points="994.5,244.8 985.5,248.8 985.5,240.8" fill="#111"/>
<rect x="1013.3" y="213.3" width="62.7" height="22.3" fill="#92d050" stroke="#5f8f34" stroke-width="1.5"/>
<rect x="1013.3" y="250" width="62.7" height="22.2" fill="#92d050" stroke="#5f8f34" stroke-width="1.5"/>
<text x="1025.6" y="230.7" font-family='"Liberation Sans", sans-serif' font-size="18.5" font-weight="normal" fill="#111" stroke="#111" stroke-width="0.5" textLength="37.3" lengthAdjust="spacingAndGlyphs">FMF</text>
<text x="1023.8" y="266.7" font-family='"Liberation Sans", sans-serif' font-size="18.5" font-weight="normal" fill="#111" stroke="#111" stroke-width="0.5" textLength="39.5" lengthAdjust="spacingAndGlyphs">AOD</text>
<polyline points="128.5,366.5 128.5,372.6 168.4,372.6 168.4,366.5" fill="none" stroke="#2a2a2a" stroke-width="1.6" stroke-linejoin="round"/>
<polyline points="175.8,366.5 175.8,372.6 223.4,372.6 223.4,366.5" fill="none" stroke="#2a2a2a" stroke-width="1.6" stroke-linejoin="round"/>
<polyline points="227.4,365.5 227.4,372.3 295.3,372.3 295.3,365.5" fill="none" stroke="#2a2a2a" stroke-width="1.6" stroke-linejoin="round"/>
<polyline points="303.3,366.4 303.3,373.3 464.3,373.3 464.3,366.4" fill="none" stroke="#2a2a2a" stroke-width="1.6" stroke-linejoin="round"/>
<polyline points="469.2,365.7 469.2,373.3 600.8,373.3 600.8,365.7" fill="none" stroke="#2a2a2a" stroke-width="1.6" stroke-linejoin="round"/>
<polyline points="605.3,365.9 605.3,373.3 729.2,373.3 729.2,365.9" fill="none" stroke="#2a2a2a" stroke-width="1.6" stroke-linejoin="round"/>
<polyline points="740.3,366 740.3,372.8 859.2,372.8 859.2,366" fill="none" stroke="#2a2a2a" stroke-width="1.6" stroke-linejoin="round"/>
<polyline points="860.6,294.5 860.6,302 993.7,302 993.7,294.5" fill="none" stroke="#2a2a2a" stroke-width="1.6" stroke-linejoin="round"/>
<polyline points="1012.3,294.5 1012.3,302 1075.3,302 1075.3,294.5" fill="none" stroke="#2a2a2a" stroke-width="1.6" stroke-linejoin="round"/>
<text x="111.9" y="392.5" font-family='"Liberation Sans", sans-serif' font-size="15.5" font-weight="normal" fill="#222222" stroke="#222222" stroke-width="0.25" textLength="41.9" lengthAdjust="spacingAndGlyphs">input1</text>
<text x="162.9" y="393.0" font-family='"Liberation Sans", sans-serif' font-size="15.5" font-weight="normal" fill="#222222" stroke="#222222" stroke-width="0.25" textLength="62.2" lengthAdjust="spacingAndGlyphs">conv2d_1</text>
<text x="231.1" y="392.7" font-family='"Liberation Sans", sans-serif' font-size="15.5" font-weight="normal" fill="#222222" stroke="#222222" stroke-width="0.25" textLength="63" lengthAdjust="spacingAndGlyphs">conv2d_2</text>
<text x="343" y="393.3" font-family='"Liberation Sans", sans-serif' font-size="15.5" font-weight="normal" fill="#222222" stroke="#222222" stroke-width="0.25" textLength="63" lengthAdjust="spacingAndGlyphs">conv2d_3</text>
<text x="491.7" y="393.5" font-family='"Liberation Sans", sans-serif' font-size="15.5" font-weight="normal" fill="#222222" stroke="#222222" stroke-width="0.25" textLength="62.5" lengthAdjust="spacingAndGlyphs">conv2d_4</text>
<text x="619.7" y="394.6" font-family='"Liberation Sans", sans-serif' font-size="15.5" font-weight="normal" fill="#222222" stroke="#222222" stroke-width="0.25" textLength="57.5" lengthAdjust="spacingAndGlyphs">flatten_1</text>
<text x="763.3" y="392.4" font-family='"Liberation Sans", sans-serif' font-size="15.5" font-weight="normal" fill="#222222" stroke="#222222" stroke-width="0.25" textLength="54.2" lengthAdjust="spacingAndGlyphs">dense_1</text>
<text x="869.2" y="321.8" font-family='"Liberation Sans", sans-serif' font-size="16.8" font-weight="normal" fill="#222222" stroke="#222222" stroke-width="0.3" textLength="119.6" lengthAdjust="spacingAndGlyphs">concatenate_1</text>
<text x="1017.2" y="321.8" font-family='"Liberation Sans", sans-serif' font-size="16.8" font-weight="normal" fill="#222222" stroke="#222222" stroke-width="0.3" textLength="56" lengthAdjust="spacingAndGlyphs">output</text>
</svg>
</body></html>
